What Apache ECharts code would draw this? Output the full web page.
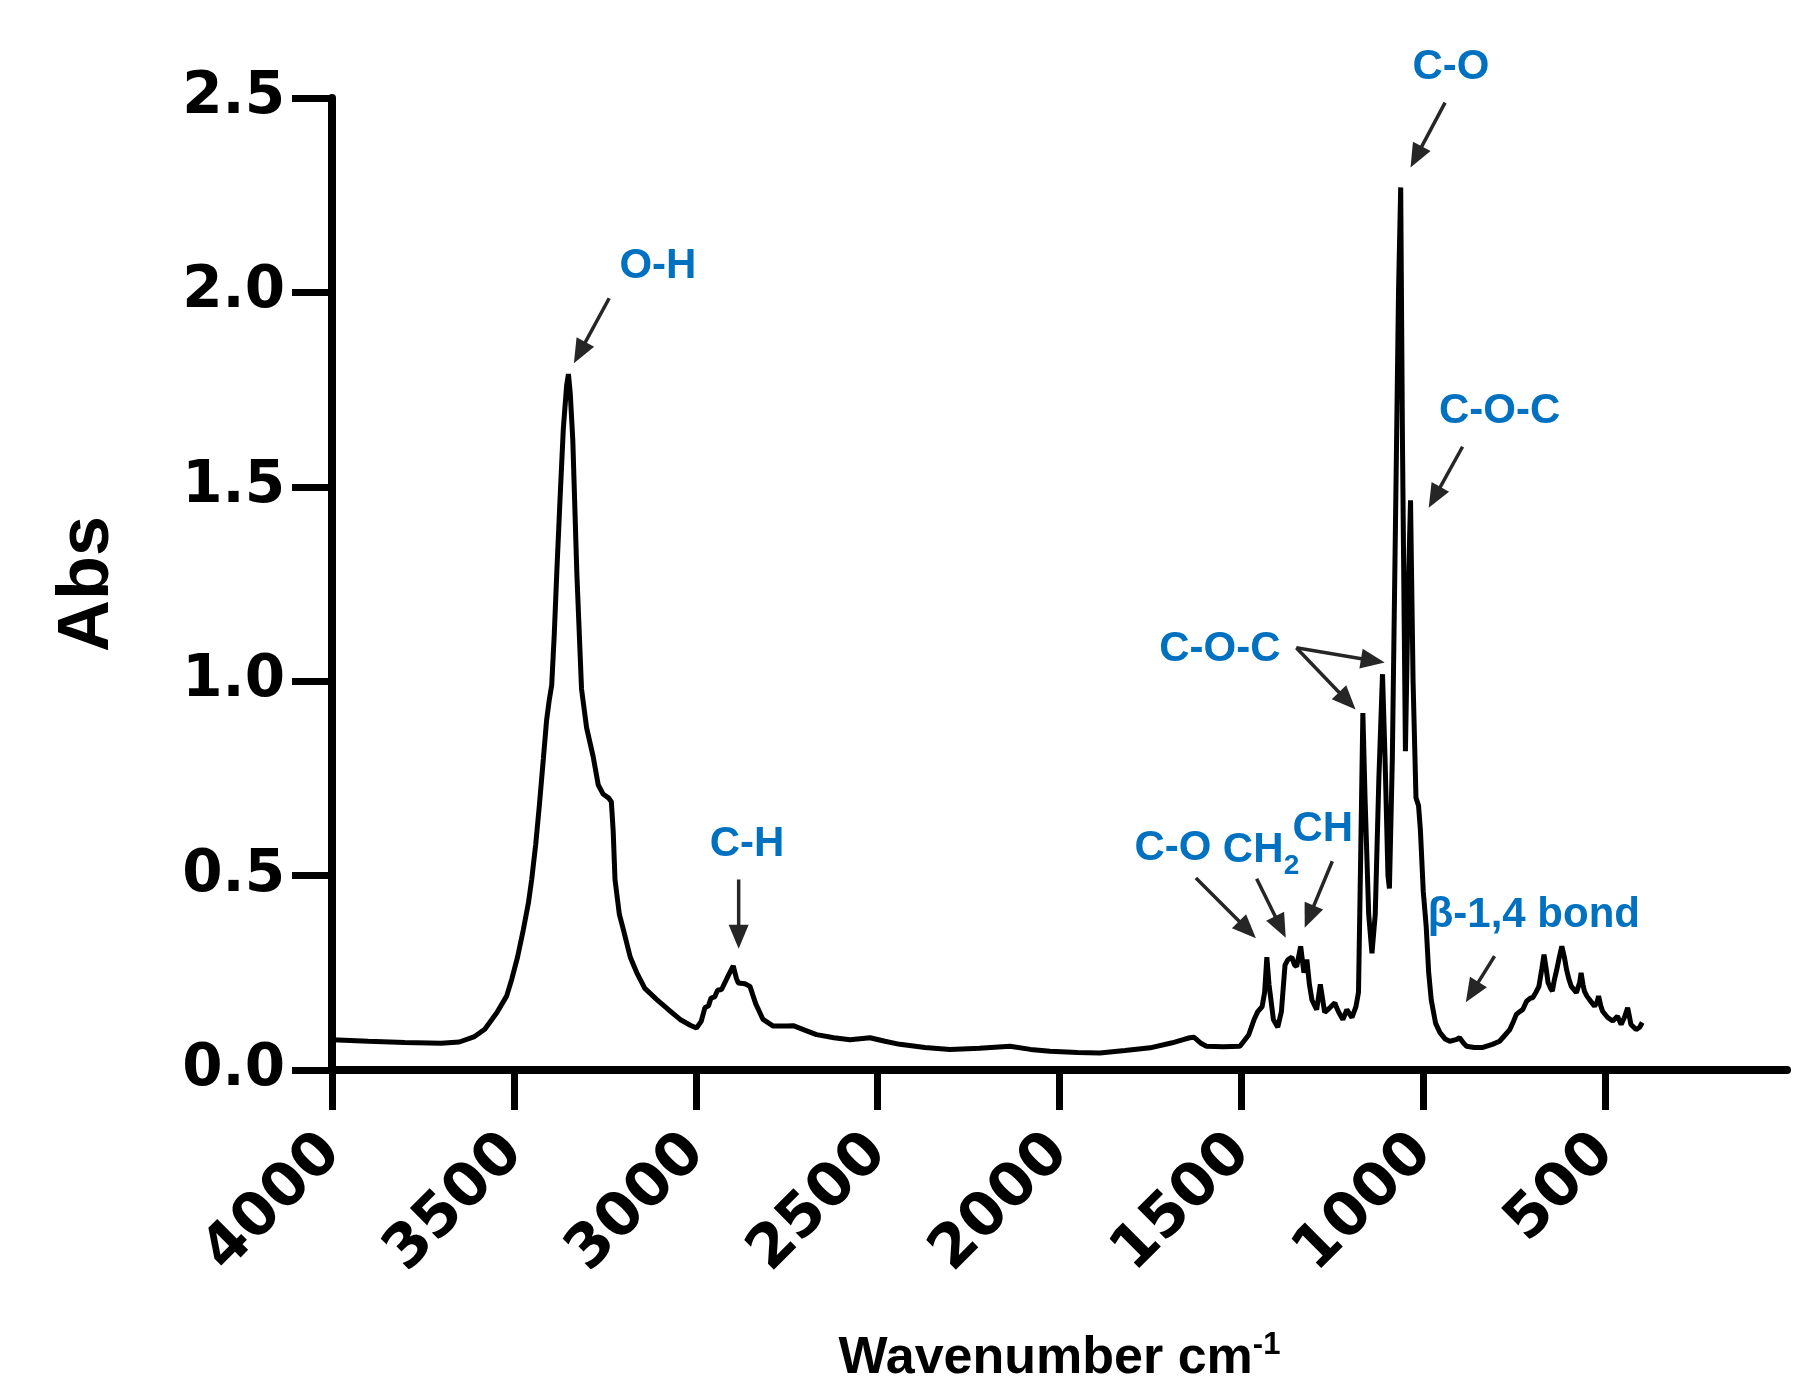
<!DOCTYPE html>
<html>
<head>
<meta charset="utf-8">
<title>FTIR spectrum</title>
<script src="https://cdn.jsdelivr.net/npm/echarts@6/dist/echarts.min.js"></script>
<style>
  html, body { margin: 0; padding: 0; background: #fff; }
  #chart { width: 1799px; height: 1385px; }
</style>
</head>
<body>
<div id="chart"></div>
<script>
// spectrum (wavenumber cm-1 / absorbance)
const wavenumber = [
  4000, 3900, 3800, 3700, 3650, 3610, 3580, 3547, 3520, 3506, 3490, 3474, 3460, 3451, 3440, 3430,
  3419, 3410, 3403, 3396, 3389, 3382, 3373, 3364, 3355, 3350, 3345, 3338, 3327, 3314, 3300, 3282,
  3268, 3255, 3240, 3232, 3227, 3222, 3210, 3199, 3180, 3162, 3140, 3107, 3075, 3043, 3015, 2998,
  2985, 2975, 2965, 2958, 2948, 2940, 2929, 2912, 2897, 2888, 2883, 2865, 2851, 2835, 2815, 2787,
  2750, 2732, 2704, 2668, 2620, 2576, 2521, 2480, 2439, 2370, 2301, 2220, 2136, 2080, 2026, 1950,
  1889, 1820, 1751, 1690, 1660, 1642, 1630, 1610, 1596, 1550, 1504, 1480, 1465, 1455, 1443, 1436,
  1430, 1424, 1412, 1400, 1390, 1380, 1372, 1361, 1354, 1348, 1337, 1328, 1320, 1313, 1306, 1293,
  1283, 1279, 1271, 1257, 1243, 1238, 1232, 1221, 1210, 1196, 1185, 1178, 1172, 1166, 1160, 1150,
  1141, 1132, 1122, 1112, 1105, 1097, 1093, 1085, 1075, 1068, 1062, 1057, 1049, 1042, 1035, 1028,
  1020, 1013, 1008, 1000, 992, 985, 978, 966, 954, 940, 927, 910, 900, 890, 881, 860,
  836, 810, 790, 775, 762, 752, 744, 735, 726, 716, 705, 699, 690, 682, 674, 668,
  662, 657, 650, 645, 640, 633, 626, 619, 612, 606, 600, 593, 579, 570, 566, 561,
  557, 550, 543, 529, 522, 518, 512, 507, 493, 479, 466, 456, 447, 438, 429, 415,
  405, 398
];
const absorbance = [
  0.078, 0.074, 0.071, 0.069, 0.072, 0.085, 0.105, 0.147, 0.19, 0.233, 0.29, 0.361, 0.43, 0.49, 0.58, 0.68,
  0.80, 0.90, 0.95, 0.99, 1.12, 1.28, 1.47, 1.65, 1.76, 1.79, 1.74, 1.62, 1.28, 0.98, 0.88, 0.806,
  0.733, 0.71, 0.70, 0.69, 0.615, 0.49, 0.40, 0.361, 0.29, 0.25, 0.21, 0.181, 0.155, 0.13, 0.115, 0.108,
  0.125, 0.16, 0.165, 0.185, 0.188, 0.205, 0.207, 0.24, 0.268, 0.235, 0.224, 0.222, 0.215, 0.17, 0.13, 0.113,
  0.113, 0.114, 0.104, 0.091, 0.083, 0.078, 0.083, 0.074, 0.066, 0.058, 0.053, 0.056, 0.061, 0.053, 0.048, 0.045,
  0.044, 0.05, 0.057, 0.07, 0.078, 0.083, 0.084, 0.068, 0.061, 0.06, 0.061, 0.09, 0.13, 0.15, 0.163, 0.2,
  0.29, 0.22, 0.13, 0.11, 0.15, 0.27, 0.284, 0.29, 0.27, 0.266, 0.318, 0.25, 0.284, 0.22, 0.18, 0.155,
  0.22, 0.225, 0.148, 0.16, 0.173, 0.16, 0.148, 0.13, 0.155, 0.135, 0.163, 0.2, 0.55, 0.918, 0.70, 0.40,
  0.30, 0.40, 0.75, 1.018, 0.80, 0.50, 0.467, 0.8, 1.5, 2.0, 2.27, 1.6, 0.82, 1.2, 1.465, 1.0,
  0.70, 0.68, 0.62, 0.46, 0.37, 0.25, 0.18, 0.12, 0.096, 0.08, 0.074, 0.078, 0.083, 0.07, 0.061, 0.058,
  0.058, 0.066, 0.074, 0.09, 0.104, 0.125, 0.143, 0.15, 0.156, 0.177, 0.185, 0.186, 0.2, 0.215, 0.26, 0.297,
  0.26, 0.225, 0.21, 0.203, 0.23, 0.258, 0.29, 0.318, 0.29, 0.258, 0.235, 0.215, 0.199, 0.225, 0.25, 0.22,
  0.203, 0.19, 0.181, 0.164, 0.175, 0.19, 0.165, 0.151, 0.135, 0.126, 0.138, 0.117, 0.135, 0.16, 0.117, 0.104,
  0.11, 0.122
];
const xTicks = [4000, 3500, 3000, 2500, 2000, 1500, 1000, 500];

// band labels: text, anchor in data units [wavenumber, abs]
const bandLabels = ['C-O', 'C-O-C', 'O-H', 'C-H', 'C-O-C', 'C-O', 'CH', 'β-1,4 bond'];
const bandLabelPos = [[924, 2.578], [790, 1.694], [3104, 2.066], [2859, 0.58], [1559, 1.082], [1688, 0.57], [1276, 0.62], [696, 0.398]];
// the CH2 label is drawn apart because of its subscript
const ch2Pos = [1551, 0.565];
// arrows: [start, tip] in data units
const arrows = [
  [[940, 2.488], [1035, 2.321]],
  [[892, 1.603], [985, 1.446]],
  [[3238, 1.985], [3335, 1.818]],
  [[2882, 0.49], [2882, 0.312]],
  [[1349, 1.086], [1106, 1.048]],
  [[1349, 1.086], [1186, 0.927]],
  [[1625, 0.494], [1460, 0.339]],
  [[1458, 0.492], [1378, 0.34]],
  [[1250, 0.537], [1326, 0.366]],
  [[804, 0.293], [883, 0.174]]
];

const FONT = '"Liberation Sans", Arial, Helvetica, sans-serif';
const TICK_FONT = '"DejaVu Sans", "Liberation Sans", Arial, sans-serif';
const BLUE = '#0070c0';

const chartDom = document.getElementById('chart');
const myChart = echarts.init(chartDom);

const option = {
    backgroundColor: '#fff',
    animation: false,
    grid: {
        left: 332,
        right: 12,
        top: 98,
        bottom: 315,
        containLabel: false,
        outerBoundsMode: 'none'
    },
    xAxis: {
        type: 'value',
        min: 0,
        max: 4000,
        inverse: true,
        name: '{t|Wavenumber cm}{s|-1}',
        nameLocation: 'middle',
        nameGap: 260,
        nameMoveOverlap: false,
        nameTextStyle: {
            rich: {
                t: { fontFamily: FONT, fontSize: 52, fontWeight: 'bold', color: '#000', lineHeight: 58 },
                s: { fontFamily: FONT, fontSize: 31, fontWeight: 'bold', color: '#000', verticalAlign: 'top', lineHeight: 58 }
            }
        },
        axisLine: { onZero: false, lineStyle: { color: '#000', width: 8 } },
        axisTick: { customValues: xTicks, length: 40, lineStyle: { color: '#000', width: 7 } },
        axisLabel: {
            customValues: xTicks,
            rotate: 45,
            margin: 74,
            fontFamily: TICK_FONT,
            fontSize: 60,
            fontWeight: 'bold',
            color: '#000',
            formatter: v => String(v)
        },
        splitLine: { show: false }
    },
    yAxis: {
        type: 'value',
        min: 0,
        max: 2.5,
        interval: 0.5,
        name: 'Abs',
        nameLocation: 'middle',
        nameGap: 208,
        nameMoveOverlap: false,
        nameTextStyle: { fontFamily: FONT, fontSize: 72, fontWeight: 'bold', color: '#000' },
        axisLine: { show: true, onZero: false, lineStyle: { color: '#000', width: 8 } },
        axisTick: { show: true, length: 40, lineStyle: { color: '#000', width: 7 } },
        axisLabel: {
            margin: 47,
            fontFamily: TICK_FONT,
            fontSize: 58,
            fontWeight: 'bold',
            color: '#000',
            formatter: v => v.toFixed(1)
        },
        splitLine: { show: false }
    },
    series: [{
        type: 'line',
        data: wavenumber.map((w, i) => [w, absorbance[i]]),
        showSymbol: false,
        smooth: false,
        lineStyle: { color: '#000', width: 5 },
        clip: false
    }]
};

myChart.setOption(option);

// annotations placed from data units through the chart's own axes
function px(p) {
    return myChart.convertToPixel({ gridIndex: 0 }, p);
}

function arrowShape(from, to) {
    const a = px(from), b = px(to);
    const dx = b[0] - a[0], dy = b[1] - a[1];
    const len = Math.sqrt(dx * dx + dy * dy);
    const ux = dx / len, uy = dy / len;
    const head = 24, half = 10;
    const bx = b[0] - ux * head, by = b[1] - uy * head;
    return [
        { type: 'line', shape: { x1: a[0], y1: a[1], x2: bx + ux * 2, y2: by + uy * 2 }, style: { stroke: '#262626', lineWidth: 3.5 }, silent: true },
        { type: 'polygon', shape: { points: [[b[0], b[1]], [bx - uy * half, by + ux * half], [bx + uy * half, by - ux * half]] }, style: { fill: '#262626' }, silent: true }
    ];
}

const graphics = [];
bandLabels.forEach((t, i) => {
    const p = px(bandLabelPos[i]);
    graphics.push({
        type: 'text', x: p[0], y: p[1], silent: true,
        style: { text: t, fill: BLUE, font: 'bold 42px ' + FONT, align: 'center', verticalAlign: 'middle' }
    });
});
const c2 = px(ch2Pos);
graphics.push({
    type: 'text', x: c2[0], y: c2[1], silent: true,
    style: { text: 'CH', fill: BLUE, font: 'bold 42px ' + FONT, align: 'left', verticalAlign: 'middle' }
});
graphics.push({
    type: 'text', x: c2[0] + 61, y: c2[1] + 16, silent: true,
    style: { text: '2', fill: BLUE, font: 'bold 28px ' + FONT, align: 'left', verticalAlign: 'middle' }
});
arrows.forEach(a => { graphics.push(...arrowShape(a[0], a[1])); });

myChart.setOption({ graphic: graphics });

window.addEventListener('resize', () => {
    myChart.resize();
});
</script>
</body>
</html>
